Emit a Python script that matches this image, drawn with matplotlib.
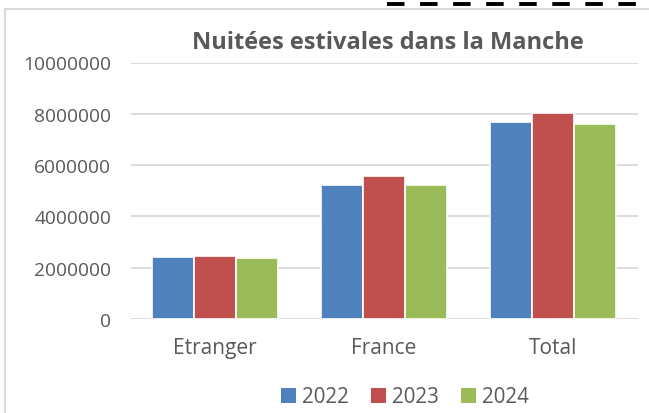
import matplotlib

matplotlib.use("Agg")
import matplotlib.pyplot as plt
import numpy as np
from matplotlib.lines import Line2D
from matplotlib.patches import Patch

# Data
categories = ["Etranger", "France", "Total"]
years = ["2022", "2023", "2024"]
values_2022 = [2430000, 5210000, 7670000]
values_2023 = [2440000, 5560000, 8040000]
values_2024 = [2390000, 5210000, 7610000]
y_ticks = [0, 2000000, 4000000, 6000000, 8000000, 10000000]

colors = ["#4F81BD", "#C0504D", "#9BBB59"]
text_color = "#595959"
grid_color = "#D9D9D9"

plt.rcParams["font.family"] = ["Open Sans", "DejaVu Sans"]

W, H = 649, 414
fig = plt.figure(figsize=(W / 100, H / 100), dpi=100)
ax = fig.add_axes([130.5 / W, 1 - 320 / H, (637.5 - 130.5) / W, (320 - 63.5) / H])

x = np.arange(len(categories))
bar_width = 0.25
series = [values_2022, values_2023, values_2024]
for i, (vals, color) in enumerate(zip(series, colors)):
    ax.bar(x + (i - 1) * bar_width, vals, width=bar_width, color=color,
           edgecolor="white", linewidth=1.2, zorder=3)

ax.set_xlim(-0.5, len(categories) - 0.5)
ax.set_ylim(0, 10000000)
ax.set_yticks(y_ticks)
ax.set_yticklabels([str(v) for v in y_ticks])
ax.set_xticks(x)
ax.set_xticklabels(categories)
ax.yaxis.grid(True, color=grid_color, linewidth=1.3, zorder=0)
ax.set_axisbelow(True)
for spine in ax.spines.values():
    spine.set_visible(False)
ax.tick_params(axis="y", length=0, pad=14, labelsize=13.8, labelcolor=text_color)
ax.tick_params(axis="x", length=0, pad=13, labelsize=15, labelcolor=text_color)

fig.text(388 / W, 1 - 43 / H, "Nuitées estivales dans la Manche", ha="center", va="center",
         fontsize=17, fontweight="bold", color=text_color)

handles = [Patch(facecolor=c, edgecolor="none") for c in colors]
fig.legend(handles, years, loc="center", bbox_to_anchor=(405 / W, 1 - 398 / H), ncol=3,
           frameon=False, fontsize=14.8, handlelength=0.7, handleheight=0.7,
           handletextpad=0.3, columnspacing=1.1, labelcolor=text_color)

# chart frame and dashed line at top right
fig.add_artist(Line2D([5 / W, 5 / W, 1], [0, 1 - 10 / H, 1 - 10 / H],
                      transform=fig.transFigure, color=grid_color, linewidth=1.5))
fig.add_artist(Line2D([387 / W, 1], [1 - 5 / H, 1 - 5 / H], transform=fig.transFigure,
                      color="black", linewidth=2.8, linestyle=(0, (4.5, 4))))

fig.savefig("out.png", dpi=100)
